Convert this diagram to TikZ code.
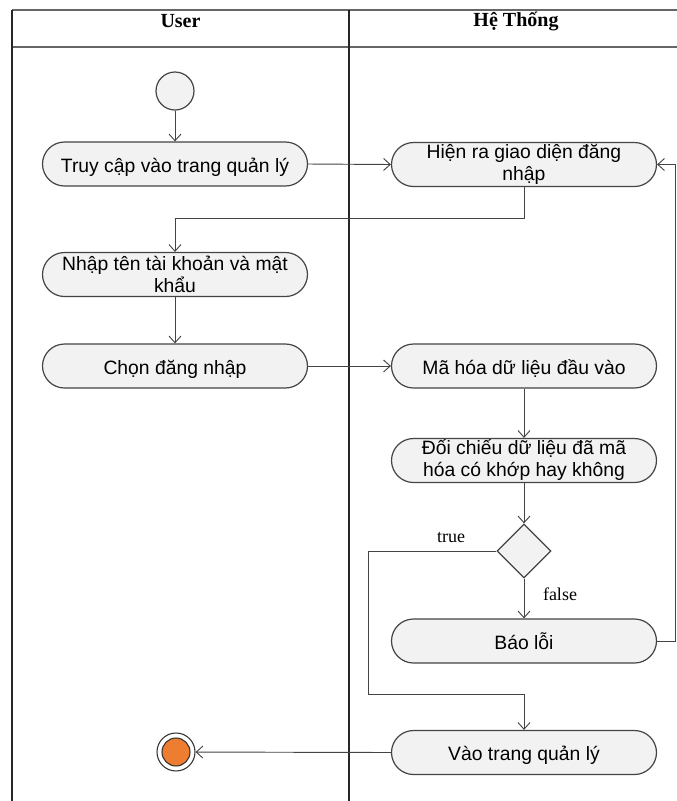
\documentclass[tikz,border=0pt]{standalone}
\usepackage{fontspec}
\setmainfont{Liberation Sans}
\newfontfamily\headfont{Liberation Serif}
\usetikzlibrary{shapes.geometric,arrows.meta}
\definecolor{actfill}{HTML}{F2F2F2}
\definecolor{actline}{HTML}{444444}
\definecolor{endorange}{HTML}{ED7D31}
\begin{document}
\begin{tikzpicture}[x=0.75pt,y=-0.75pt,
  action/.style={draw=actline, line width=0.9pt, fill=actfill, rounded corners=16.5pt,
    minimum width=198.75pt, minimum height=33pt, inner sep=1pt, align=center,
    font=\fontsize{14.5}{16.5}\selectfont},
  oneline/.style={action, text height=14pt, text depth=2pt},
  flow/.style={draw=actline, line width=0.7pt, -{Straight Barb[length=5pt,width=9pt]}},
  lane/.style={draw=black!85, line width=1pt},
  hdr/.style={font=\headfont\bfseries\fontsize{15}{17}\selectfont},
  guard/.style={font=\headfont\fontsize{13.5}{15}\selectfont}]
\useasboundingbox (0,0) rectangle (676,801);

% swimlane frame
\draw[lane, draw=black!60] (12,10) -- (690,10);
\draw[lane, draw=black!60] (12,47) -- (690,47);
\draw[lane] (12,10) -- (12,810);
\draw[lane] (349,10) -- (349,810);
\node[hdr] (hUser) at (180.5,21) {User};
\node[hdr] (hSys) at (516,21) {Hệ Thống};

% initial node
\node[circle, draw=actline, line width=0.9pt, fill=actfill, minimum size=28.5pt, inner sep=0] (start) at (175,91) {};

% actions
\node[oneline] (b1) at (175,164) {Truy cập vào trang quản lý};
\node[action] (b2) at (524,164.5) {Hiện ra giao diện đăng\\nhập};
\node[action] (b3) at (175,274.5) {Nhập tên tài khoản và mật\\khẩu};
\node[oneline] (b4) at (175,366) {Chọn đăng nhập};
\node[oneline] (b5) at (524,366) {Mã hóa dữ liệu đầu vào};
\node[action] (b6) at (524,460.5) {Đối chiếu dữ liệu đã mã\\hóa có khớp hay không};
\node[diamond, draw=actline, line width=0.9pt, fill=actfill, minimum width=40.5pt, minimum height=40.5pt, inner sep=0] (dec) at (524,551) {};
\node[oneline] (b7) at (524,641) {Báo lỗi};
\node[oneline] (b8) at (524,752.5) {Vào trang quản lý};

% final node
\node[circle, draw=black!80, line width=0.8pt, fill=white, minimum size=28.5pt, inner sep=0] (end) at (176,752) {};
\node[circle, draw=black!80, line width=0.8pt, fill=endorange, minimum size=21pt, inner sep=0] (endin) at (end.center) {};

% guards
\node[guard] (gTrue) at (451,538) {true};
\node[guard] (gFalse) at (560,594) {false};

% control flow
\draw[flow] (start) -- (b1);
\draw[flow] (b1.east) -- (b2.west);
\draw[flow] (b2.south) -- ++(0,31) -| (b3.north);
\draw[flow] (b3) -- (b4);
\draw[flow] (b4.east) -- (b5.west);
\draw[flow] (b5) -- (b6);
\draw[flow] (b6) -- (dec);
\draw[flow] (dec) -- (b7);
\draw[flow] (b7.east) -- ++(18,0) |- (b2.east);
\draw[flow] (dec.west) -| ++(-128,143) -| (b8.north);
\draw[flow] (b8.west) -- (end);
\end{tikzpicture}
\end{document}
